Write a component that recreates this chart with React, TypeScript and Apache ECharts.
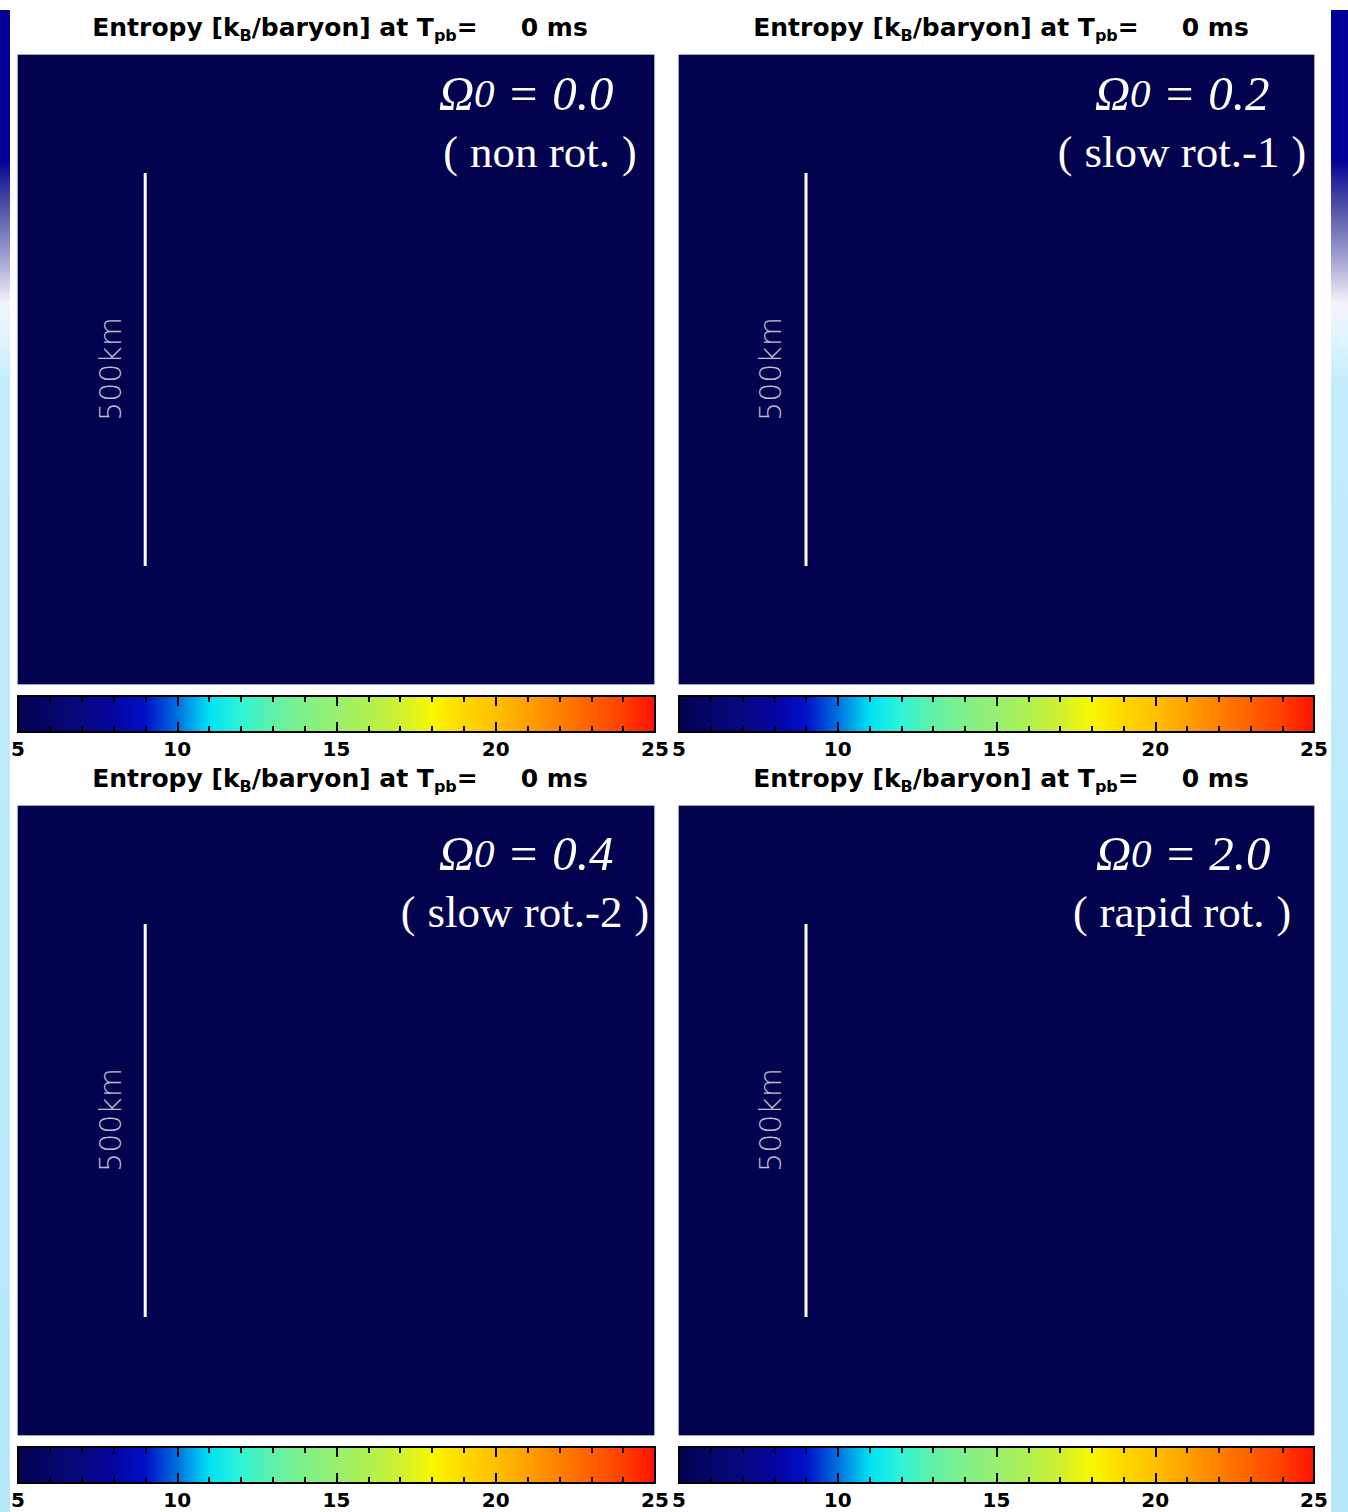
import React, { useEffect, useRef } from 'react';
import * as echarts from 'echarts';

// ---- data ----
const entropyRange = [5, 25];
const colorbarInterval = 5;
const colorbarMinorSplit = 5;
const jetColors = [
  '#02024f', '#05056a', '#070780', '#0505a0', '#0010c8', '#0070e0', '#00e0f4',
  '#30f4d8', '#60f0a8', '#80f088', '#98f070', '#b0f050', '#d0f030', '#f8f800',
  '#ffd800', '#ffc000', '#ffa000', '#ff8000', '#ff6000', '#ff4000', '#ff1000',
];
const panelTimesMs = [0, 0, 0, 0];
const omegaValues = ['0.0', '0.2', '0.4', '2.0'];
const rotationLabels = ['non rot.', 'slow rot.-1', 'slow rot.-2', 'rapid rot.'];
// uniform entropy field at t_pb = 0 ms (one cell covering the domain)
const entropyField = [[0, 0, 5]];
const domainKm = [0, 800];
const scaleBarKm = [[160, 150], [160, 650]];
const scaleBarLabel = '500km';

export default function App() {
  const ref = useRef<HTMLDivElement>(null);

  useEffect(() => {
    if (!ref.current) return;
    const chart = echarts.init(ref.current, undefined, { renderer: 'svg' });

    const panels = [
      { left: 18, top: 55, width: 636, height: 629 },
      { left: 679, top: 55, width: 635, height: 629 },
      { left: 18, top: 806, width: 636, height: 629 },
      { left: 679, top: 806, width: 635, height: 629 },
    ];
    const bars = [
      { left: 18, top: 696, width: 637, height: 36 },
      { left: 679, top: 696, width: 635, height: 36 },
      { left: 18, top: 1447, width: 637, height: 36 },
      { left: 679, top: 1447, width: 635, height: 36 },
    ];
    const titleCenters = [
      { x: 340, y: 11 }, { x: 1001, y: 11 }, { x: 340, y: 762 }, { x: 1001, y: 762 },
    ];
    const kmLabelPos = [
      { x: 110, y: 369 }, { x: 770, y: 369 }, { x: 110, y: 1120 }, { x: 770, y: 1120 },
    ];
    const annoPos = [
      { x: 526, y1: 93, x2: 540, y2: 152 },
      { x: 1182, y1: 93, x2: 1182, y2: 152 },
      { x: 526, y1: 853, x2: 525, y2: 912 },
      { x: 1183, y1: 853, x2: 1182, y2: 912 },
    ];

    const grid: any[] = [];
    const xAxis: any[] = [];
    const yAxis: any[] = [];
    const series: any[] = [];
    const heatIdx: number[] = [];

    const gradStops = jetColors.map((c, k) => ({ offset: k / (jetColors.length - 1), color: c }));

    panels.forEach((p, i) => {
      grid.push({ ...p, show: true, borderColor: '#b4b4c8', borderWidth: 1, backgroundColor: 'transparent' });
      xAxis.push({ gridIndex: i, type: 'category', data: ['0'], show: false });
      xAxis.push({ gridIndex: i, type: 'value', min: domainKm[0], max: domainKm[1], show: false });
      yAxis.push({ gridIndex: i, type: 'category', data: ['0'], show: false });
      yAxis.push({ gridIndex: i, type: 'value', min: domainKm[0], max: domainKm[1], show: false });
      heatIdx.push(series.length);
      series.push({
        type: 'heatmap', xAxisIndex: 2 * i, yAxisIndex: 2 * i, data: entropyField,
        itemStyle: { borderWidth: 0 }, silent: true,
      });
      series.push({
        type: 'line', xAxisIndex: 2 * i + 1, yAxisIndex: 2 * i + 1, data: scaleBarKm,
        symbol: 'none', silent: true, lineStyle: { color: '#ffffff', width: 3 },
      });
    });

    bars.forEach((b, j) => {
      const gi = 4 + j;
      grid.push({
        ...b, show: true, borderColor: '#000', borderWidth: 2,
        backgroundColor: { type: 'linear', x: 0, y: 0, x2: 1, y2: 0, colorStops: gradStops },
      });
      const common = {
        gridIndex: gi, type: 'value', min: entropyRange[0], max: entropyRange[1], interval: colorbarInterval,
        axisLine: { show: true, lineStyle: { color: '#000', width: 2 } },
        axisTick: { show: true, inside: true, length: 10, lineStyle: { color: '#000', width: 2 } },
        minorTick: { show: true, splitNumber: colorbarMinorSplit, length: 6, lineStyle: { color: '#000', width: 2 } },
        splitLine: { show: false },
        minorSplitLine: { show: false },
      };
      xAxis.push({
        ...common, position: 'bottom',
        axisLabel: {
          show: true, color: '#000', fontSize: 20, fontWeight: 'bold', fontFamily: 'DejaVu Sans', margin: 7,
          showMinLabel: true, showMaxLabel: true,
        },
      });
      xAxis.push({ ...common, position: 'top', axisLabel: { show: false } });
      yAxis.push({ gridIndex: gi, type: 'value', min: 0, max: 1, show: false });
    });

    const graphic: any[] = [];
    const stripFill = new echarts.graphic.LinearGradient(0, 0, 0, 1, [
      { offset: 0, color: '#000099' },
      { offset: 0.1, color: '#000099' },
      { offset: 0.115, color: '#2a2a9c' },
      { offset: 0.14, color: '#6666b2' },
      { offset: 0.168, color: '#a8a8d4' },
      { offset: 0.195, color: '#f4f4fa' },
      { offset: 0.22, color: '#def4fc' },
      { offset: 0.25, color: '#c2ecfb' },
      { offset: 1, color: '#b6e8fa' },
    ]);
    graphic.push({ type: 'rect', z: 100, shape: { x: 0, y: 10, width: 10, height: 1502 }, style: { fill: stripFill }, silent: true });
    graphic.push({ type: 'rect', z: 100, shape: { x: 1331, y: 10, width: 17, height: 1502 }, style: { fill: stripFill }, silent: true });

    titleCenters.forEach((t, i) => {
      graphic.push({
        type: 'text', x: t.x, y: t.y, silent: true, z: 100,
        style: {
          text: `{m|Entropy [k}{s|B}{m|/baryon] at T}{s|pb}{m|=}{t|${panelTimesMs[i]} ms}`,
          align: 'center', textAlign: 'center', verticalAlign: 'top', textVerticalAlign: 'top',
          fill: '#000',
          rich: {
            m: { fontSize: 25, fontWeight: 'bold', fontFamily: 'DejaVu Sans', lineHeight: 32, fill: '#000', verticalAlign: 'middle' },
            s: { fontSize: 16, fontWeight: 'bold', fontFamily: 'DejaVu Sans', lineHeight: 12, fill: '#000', verticalAlign: 'bottom' },
            t: { fontSize: 25, fontWeight: 'bold', fontFamily: 'DejaVu Sans', lineHeight: 32, fill: '#000', verticalAlign: 'middle', padding: [0, 0, 0, 43] },
          },
        },
      });
    });

    kmLabelPos.forEach((k) => {
      graphic.push({
        type: 'text', x: k.x, y: k.y, rotation: Math.PI / 2, silent: true, z: 100,
        style: {
          text: scaleBarLabel, align: 'center', textAlign: 'center', verticalAlign: 'middle', textVerticalAlign: 'middle',
          fontSize: 30, fontFamily: 'DejaVu Sans', fontWeight: 300, fill: '#bcbccc',
        },
      });
    });

    annoPos.forEach((a, i) => {
      graphic.push({
        type: 'text', x: a.x, y: a.y1, silent: true, z: 100,
        style: {
          text: `{o|Ω}{z|0}{o| = ${omegaValues[i]}}`,
          align: 'center', textAlign: 'center', verticalAlign: 'middle', textVerticalAlign: 'middle',
          fill: '#fff',
          rich: {
            o: { fontSize: 49, fontStyle: 'italic', fontFamily: 'Liberation Serif', fill: '#fff', lineHeight: 54 },
            z: { fontSize: 41, fontStyle: 'italic', fontFamily: 'Liberation Serif', fill: '#fff', lineHeight: 54 },
          },
        },
      });
      graphic.push({
        type: 'text', x: a.x2, y: a.y2, silent: true, z: 100,
        style: {
          text: `{p|(}{w|${rotationLabels[i]}}{p|)}`,
          align: 'center', textAlign: 'center', verticalAlign: 'middle', textVerticalAlign: 'middle',
          fill: '#fff',
          rich: {
            p: { fontSize: 44, fontFamily: 'Liberation Serif', fill: '#fff', lineHeight: 54 },
            w: { fontSize: 45, fontFamily: 'Liberation Serif', fill: '#fff', lineHeight: 54, padding: [0, 12, 0, 12] },
          },
        },
      });
    });

    chart.setOption({
      animation: false,
      backgroundColor: '#ffffff',
      grid, xAxis, yAxis, series, graphic,
      visualMap: {
        type: 'continuous', show: false, min: entropyRange[0], max: entropyRange[1],
        dimension: 2, seriesIndex: heatIdx, inRange: { color: jetColors },
      },
    });

    return () => chart.dispose();
  }, []);

  return <div ref={ref} style={{ position: 'absolute', left: 0, top: 0, width: 1348, height: 1512 }} />;
}
